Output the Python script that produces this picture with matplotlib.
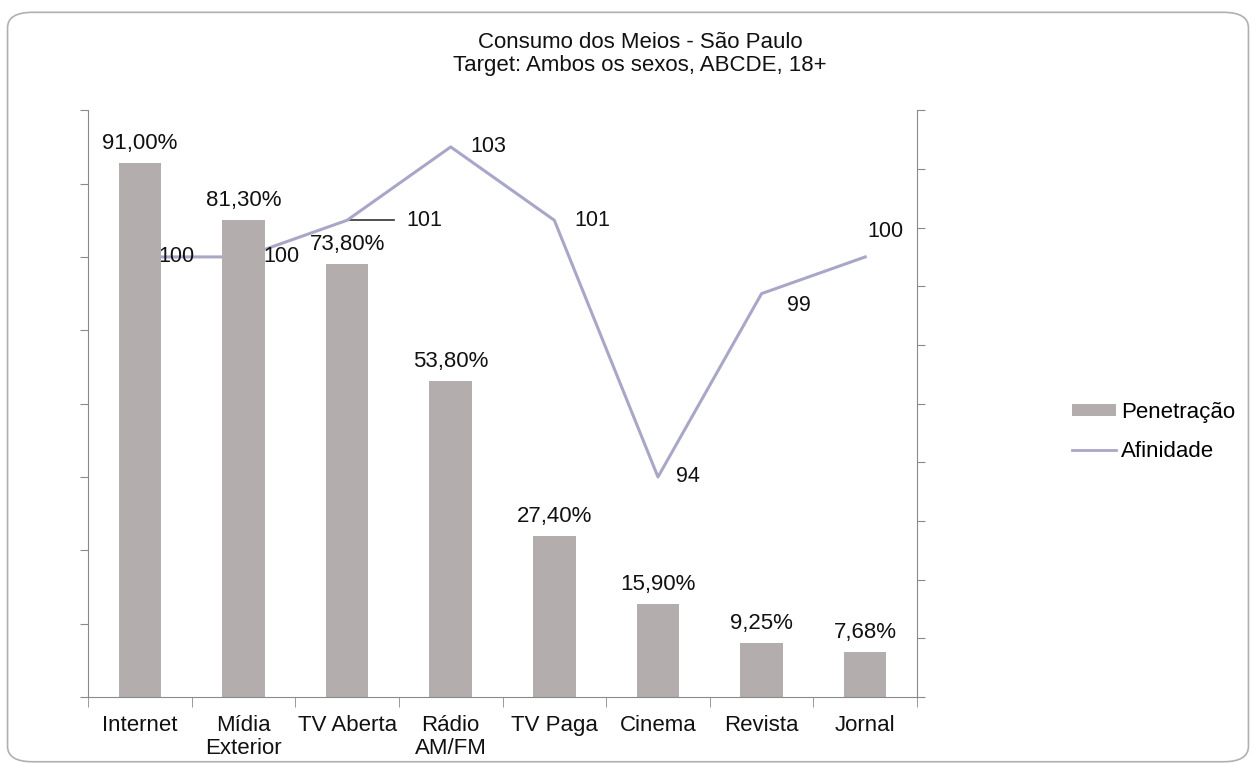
import matplotlib

matplotlib.use("Agg")
import matplotlib.pyplot as plt
from matplotlib.patches import FancyBboxPatch
from matplotlib.lines import Line2D

categories = ["Internet", "Mídia\nExterior", "TV Aberta", "Rádio\nAM/FM",
              "TV Paga", "Cinema", "Revista", "Jornal"]
penetracao = [91.00, 81.30, 73.80, 53.80, 27.40, 15.90, 9.25, 7.68]
penetracao_labels = ["91,00%", "81,30%", "73,80%", "53,80%",
                     "27,40%", "15,90%", "9,25%", "7,68%"]
afinidade = [100, 100, 101, 103, 101, 94, 99, 100]
afinidade_labels = ["100", "100", "101", "103", "101", "94", "99", "100"]

BAR_COLOR = "#b3adad"
LINE_COLOR = "#a9a7c8"
AXIS_COLOR = "#8a8a8a"
TEXT_COLOR = "#111111"

plt.rcParams["font.family"] = ["Liberation Sans", "DejaVu Sans"]

fig = plt.figure(figsize=(12.56, 7.71), dpi=100)

# rounded frame around the whole chart
fig.patches.append(
    FancyBboxPatch((0.006, 0.012), 0.988, 0.972, boxstyle="round,pad=0,rounding_size=0.02",
                   transform=fig.transFigure, facecolor="none",
                   edgecolor="#b0b0b0", linewidth=1.2)
)

ax = fig.add_axes([0.0701, 0.096, 0.6600, 0.761])
ax2 = ax.twinx()
# bars sit in front of the line (the line is hidden where it crosses them)
ax.set_zorder(ax2.get_zorder() + 1)
ax.patch.set_visible(False)

x = list(range(len(categories)))

ax.bar(x, penetracao, width=0.41, color=BAR_COLOR, zorder=2)
for xi, val, lab in zip(x, penetracao, penetracao_labels):
    ax.annotate(lab, (xi, val), xytext=(0, 9), textcoords="offset pixels",
                ha="center", va="bottom", fontsize=16, color=TEXT_COLOR)

ax.set_xlim(-0.5, len(categories) - 0.5)
ax.set_ylim(0, 100)
ax.set_yticks([i * 12.5 for i in range(9)])
ax.set_yticklabels([])
ax.set_xticks(x)
ax.set_xticklabels(categories, fontsize=16, linespacing=1.1, color=TEXT_COLOR)
ax.tick_params(axis="x", which="major", length=0, pad=13)
ax.set_xticks([i - 0.5 for i in range(len(categories) + 1)], minor=True)
ax.tick_params(axis="x", which="minor", length=7, color=AXIS_COLOR, direction="out")
ax.tick_params(axis="y", length=6, color=AXIS_COLOR, direction="out")
for side in ("left", "bottom"):
    ax.spines[side].set_color(AXIS_COLOR)
ax.spines["top"].set_visible(False)
ax.spines["right"].set_visible(False)

ax2.set_ylim(88, 104)
ax2.set_yticks([88 + 1.6 * i for i in range(11)])
ax2.set_yticklabels([])
ax2.tick_params(axis="y", length=6, color=AXIS_COLOR, direction="out")
ax2.spines["right"].set_color(AXIS_COLOR)
for side in ("left", "top", "bottom"):
    ax2.spines[side].set_visible(False)

ax2.plot(x, afinidade, color=LINE_COLOR, linewidth=2.2, zorder=3)

# short dark leader line for the TV Aberta label
ax2.plot([x[2], x[2] + 0.45], [afinidade[2], afinidade[2]], color="#333333", linewidth=1.2)

label_offsets = [(37, 0), (38, 0), (77, 0), (38, 0), (38, 0), (30, 0), (37, -12), (20, 25)]
for xi, val, lab, off in zip(x, afinidade, afinidade_labels, label_offsets):
    ax2.annotate(lab, (xi, val), xytext=off, textcoords="offset pixels",
                 ha="center", va="center", fontsize=15.5, color=TEXT_COLOR)

fig.text(0.5096, 0.930, "Consumo dos Meios - São Paulo\nTarget: Ambos os sexos, ABCDE, 18+",
         ha="center", va="center", fontsize=16, linespacing=1.12, color=TEXT_COLOR)

handles = [
    plt.Rectangle((0, 0), 1, 1, facecolor=BAR_COLOR, edgecolor="none"),
    Line2D([0], [0], color=LINE_COLOR, linewidth=2),
]
fig.legend(handles, ["Penetração", "Afinidade"], loc="center left",
           bbox_to_anchor=(0.8535, 0.44), frameon=False, fontsize=16,
           handlelength=2.0, handleheight=0.5, handletextpad=0.2,
           labelspacing=0.8, borderpad=0, borderaxespad=0)

fig.savefig("out.png", dpi=100)
